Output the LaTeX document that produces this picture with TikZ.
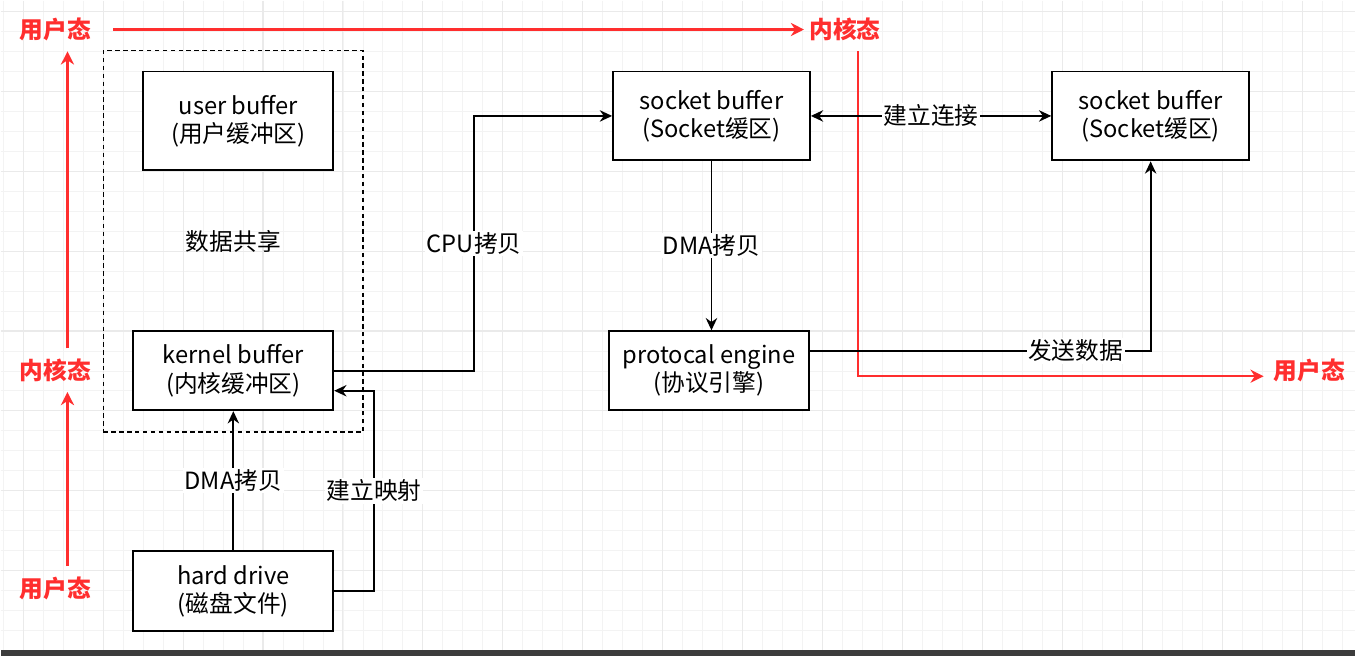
\documentclass[tikz,border=0pt]{standalone}
\usepackage{fontspec}
\setmainfont{Noto Sans CJK SC}
\usetikzlibrary{arrows.meta}
\definecolor{statered}{HTML}{FF2E2E}
\definecolor{gridminor}{HTML}{F3F3F3}
\definecolor{gridmajor}{HTML}{EAEAEA}
\definecolor{barcolor}{HTML}{3C3C3C}
\tikzset{
  box/.style={draw, line width=1.1pt, fill=white, align=center, inner sep=0pt,
    font=\fontsize{13.5}{16}\selectfont},
  lbl/.style={fill=white, inner sep=1pt, font=\fontsize{13.5}{16}\selectfont},
  conn/.style={line width=1pt, -{Stealth[length=7pt,width=6.5pt]}},
  state/.style={text=statered, inner sep=0pt, font=\fontsize{13.5}{16}\selectfont\bfseries},
  stateline/.style={draw=statered, line width=1.25pt, -{Stealth[length=7.5pt,width=7.5pt]}}
}
\begin{document}
\begin{tikzpicture}[x=0.02cm, y=-0.02cm]
  % 背景网格
  \fill[white] (0,0) rectangle (1356,656);
  \foreach \gx in {2.7,22.7,...,1356} \draw[gridminor, line width=0.5pt] (\gx,0) -- (\gx,650);
  \foreach \gy in {10.7,30.7,...,650} \draw[gridminor, line width=0.5pt] (0,\gy) -- (1356,\gy);
  \foreach \gx in {22.7,102.7,...,1356} \draw[gridmajor, line width=0.6pt] (\gx,0) -- (\gx,650);
  \foreach \gy in {10.7,90.7,...,650} \draw[gridmajor, line width=0.6pt] (0,\gy) -- (1356,\gy);
  \fill[barcolor] (0,650) rectangle (1356,656);

  % 数据共享
  \node[draw, dashed, dash pattern=on 2.5pt off 2pt, line width=1pt, minimum width=5.2cm, minimum height=7.64cm,
    font=\fontsize{13.5}{16}\selectfont] (share) at (233,241) {数据共享};

  % 缓冲区
  \node[box, minimum width=3.8cm, minimum height=1.98cm] (ubuf) at (238,120.5) {user buffer\\(用户缓冲区)};
  \node[box, minimum width=4cm, minimum height=1.58cm] (kbuf) at (233,370.5) {kernel buffer\\(内核缓冲区)};
  \node[box, minimum width=4cm, minimum height=1.6cm] (disk) at (233,591) {hard drive\\(磁盘文件)};
  \node[box, minimum width=3.94cm, minimum height=1.78cm] (sock1) at (711.5,115.5) {socket buffer\\(Socket缓区)};
  \node[box, minimum width=3.94cm, minimum height=1.78cm] (sock2) at (1151,115.5) {socket buffer\\(Socket缓区)};
  \node[box, minimum width=4cm, minimum height=1.58cm] (proto) at (709,370.5) {protocal engine\\(协议引擎)};

  % 用户态 / 内核态
  \node[state] (utop) at (55,29) {用户态};
  \node[state] (ktop) at (845,29) {内核态};
  \node[state] (kleft) at (55,370) {内核态};
  \node[state] (uleft) at (55,588) {用户态};
  \node[state] (uright) at (1310,370) {用户态};

  \draw[stateline, shorten <=0.44cm, shorten >=0.1cm] (utop) -- (ktop);
  \draw[stateline, shorten <=0.2cm, shorten >=0.2cm] ([xshift=0.24cm]uleft.north) -- ([xshift=0.24cm]kleft.south);
  \draw[stateline, shorten <=0.2cm, shorten >=0.2cm] ([xshift=0.24cm]kleft.north) -- ([xshift=0.24cm]utop.south);
  \draw[stateline, shorten <=0.2cm, shorten >=0.2cm] ([xshift=0.26cm]ktop.south) |- ([yshift=-0.12cm]uright.west);

  % 连线
  \draw[conn] (disk) -- node[lbl] {DMA拷贝} (kbuf);
  \draw[conn] (disk.east) -- ++(40,0) |- node[lbl, pos=0.25] {建立映射} ([yshift=-0.4cm]kbuf.east);
  \draw[conn] (kbuf.east) -- ++(140,0) |- node[lbl, pos=0.25] {CPU拷贝} (sock1.west);
  \draw[conn] (sock1.south) -- node[lbl] {DMA拷贝} (sock1.south |- proto.north);
  \draw[line width=1pt, {Stealth[length=7pt,width=6.5pt]}-{Stealth[length=7pt,width=6.5pt]}]
    (sock1.east) -- node[lbl] {建立连接} (sock2.west);
  \draw[conn] ([yshift=0.4cm]proto.east) -| node[lbl, pos=0.39] {发送数据} (sock2.south);
\end{tikzpicture}
\end{document}
